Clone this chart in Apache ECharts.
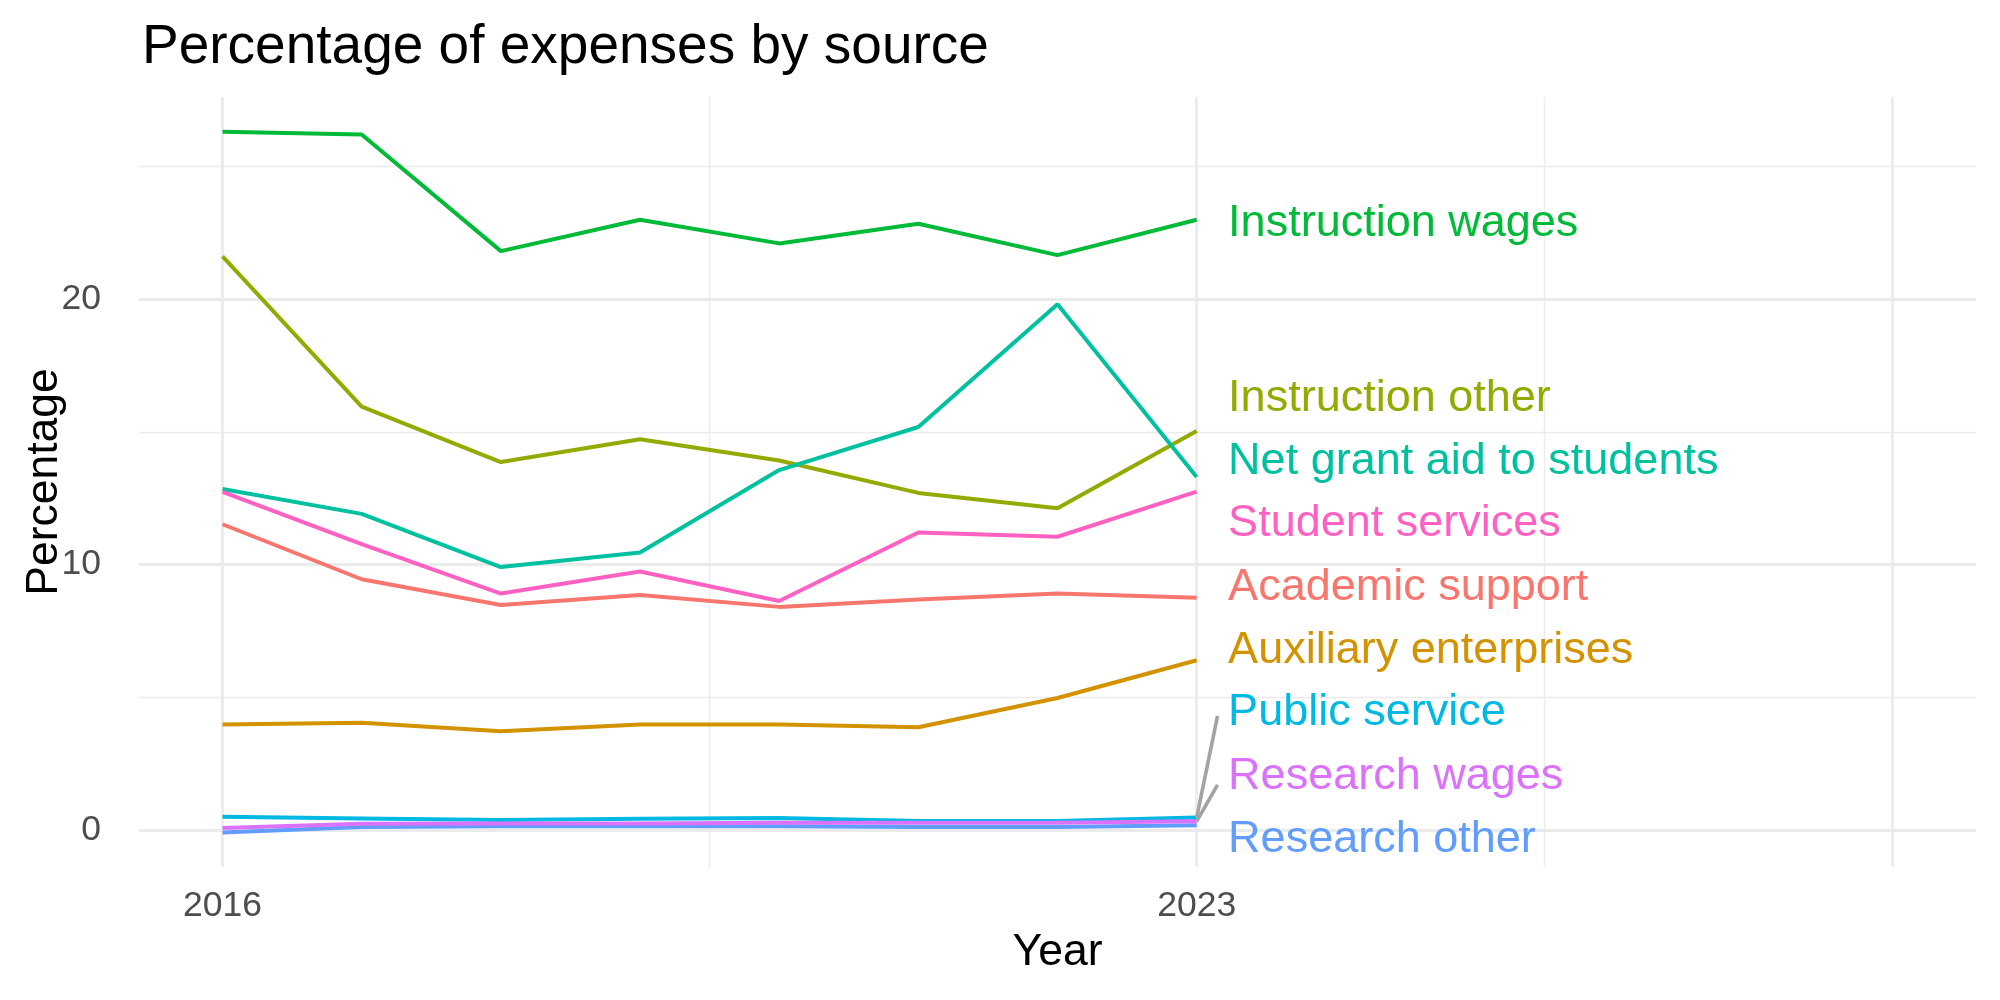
<!DOCTYPE html>
<html>
<head>
<meta charset="utf-8">
<title>Percentage of expenses by source</title>
<script src="https://cdn.jsdelivr.net/npm/echarts@6/dist/echarts.min.js"></script>
<style>
html,body{margin:0;padding:0;background:#fff;}
#chart{width:2000px;height:1000px;}
</style>
</head>
<body>
<div id="chart"></div>
<script>
// data
var years = [2016, 2017, 2018, 2019, 2020, 2021, 2022, 2023];
var sources = ['Academic support', 'Auxiliary enterprises', 'Instruction other', 'Instruction wages',
  'Net grant aid to students', 'Public service', 'Research other', 'Research wages', 'Student services'];
var academicSupport  = [11.52, 9.45, 8.48, 8.86, 8.41, 8.69, 8.91, 8.75];
var auxiliary        = [3.98, 4.05, 3.73, 3.98, 3.98, 3.88, 4.98, 6.40];
var instructionOther = [21.60, 15.95, 13.86, 14.72, 13.92, 12.70, 12.12, 15.03];
var instructionWages = [26.29, 26.19, 21.80, 22.98, 22.09, 22.83, 21.65, 22.98];
var netGrantAid      = [12.85, 11.91, 9.91, 10.46, 13.56, 15.18, 19.80, 13.30];
var publicService    = [0.51, 0.45, 0.39, 0.44, 0.46, 0.35, 0.35, 0.48];
var researchOther    = [-0.08, 0.13, 0.15, 0.15, 0.15, 0.13, 0.13, 0.19];
var researchWages    = [0.09, 0.25, 0.26, 0.26, 0.29, 0.29, 0.29, 0.34];
var studentServices  = [12.74, 10.77, 8.91, 9.74, 8.63, 11.21, 11.05, 12.75];
var values = [academicSupport, auxiliary, instructionOther, instructionWages, netGrantAid,
  publicService, researchOther, researchWages, studentServices];

// axis ticks
var xLabelTicks = [2016, 2023];
var xMajorGrid = [2016, 2023, 2028];
var xMinorGrid = [2019.5, 2025.5];
var yMajorTicks = [0, 10, 20];
var yMinorTicks = [5, 15, 25];

// repelled label heights (same order as sources), as placed in the picture
var labelY = [9.26, 6.86, 16.37, 22.93, 14.0, 4.54, -0.24, 2.14, 11.64];
// leader segments drawn for labels pushed away from their line end
var leaderFrom = {'Public service': 4.31, 'Research wages': 1.71};

var colors = ['#F8766D', '#D39200', '#93AA00', '#00BA38', '#00C19F', '#00B9E3', '#619CFF', '#DB72FB', '#FF61C3'];
var FONT = 'Liberation Sans';
var xMin = 2015.4, xMax = 2028.6, yMin = -1.38, yMax = 27.6;
var lastYear = years[years.length - 1];

var chart = echarts.init(document.getElementById('chart'));

var series = [];
sources.forEach(function(name, i){
  series.push({
    name: name,
    type: 'line',
    data: years.map(function(y, k){ return [y, values[i][k]]; }),
    showSymbol: false,
    symbol: 'none',
    lineStyle: {color: colors[i], width: 4},
    itemStyle: {color: colors[i]},
    z: 3 + i * 0.01,
    silent: true
  });
});
// leader segments
sources.forEach(function(name, i){
  if (leaderFrom[name] === undefined) return;
  series.push({
    type: 'line',
    data: [[lastYear + 0.15, leaderFrom[name]], [lastYear, values[i][values[i].length - 1]]],
    symbol: 'none',
    lineStyle: {color: '#A3A3A3', width: 3.6},
    z: 4,
    silent: true
  });
});
// text labels
series.push({
  type: 'scatter',
  symbolSize: 0,
  silent: true,
  z: 5,
  itemStyle: {opacity: 1},
  data: sources.map(function(name, i){
    return {
      name: name,
      value: [lastYear + 0.226, labelY[i]],
      label: {color: colors[i]}
    };
  }),
  label: {
    show: true,
    position: 'right',
    distance: 0,
    offset: [0, 3],
    formatter: '{b}',
    fontFamily: FONT,
    fontSize: 45,
    opacity: 1,
    textBorderWidth: 0,
    verticalAlign: 'middle'
  }
});

var option = {
  animation: false,
  backgroundColor: '#ffffff',
  title: {
    text: 'Percentage of expenses by source',
    left: 137,
    top: 15,
    textStyle: {fontFamily: FONT, fontSize: 55, fontWeight: 'normal', color: '#000000'}
  },
  grid: {left: 139, right: 24, top: 97, bottom: 133, containLabel: false},
  xAxis: [{
    type: 'value',
    min: xMin, max: xMax,
    name: 'Year',
    nameLocation: 'middle',
    nameGap: 63,
    nameTextStyle: {fontFamily: FONT, fontSize: 44.5, color: '#000000'},
    axisLine: {show: false},
    axisTick: {show: false, customValues: xMajorGrid},
    axisLabel: {
      customValues: xLabelTicks,
      formatter: function(v){ return String(v); },
      fontFamily: FONT, fontSize: 35.5, color: '#4D4D4D', margin: 21
    },
    splitLine: {show: true, lineStyle: {color: '#EBEBEB', width: 2.8}}
  }, {
    type: 'value',
    position: 'bottom',
    min: xMin, max: xMax,
    axisLine: {show: false},
    axisTick: {show: false, customValues: xMinorGrid},
    axisLabel: {show: false},
    splitLine: {show: true, lineStyle: {color: '#EBEBEB', width: 1.4}}
  }],
  yAxis: [{
    type: 'value',
    min: yMin, max: yMax,
    name: 'Percentage',
    nameLocation: 'middle',
    nameRotate: 90,
    nameGap: 72,
    nameMoveOverlap: false,
    nameTextStyle: {fontFamily: FONT, fontSize: 44.5, color: '#000000'},
    axisLine: {show: false},
    axisTick: {show: false, customValues: yMajorTicks},
    axisLabel: {
      customValues: yMajorTicks,
      formatter: function(v){ return String(v); },
      fontFamily: FONT, fontSize: 35.5, color: '#4D4D4D', margin: 38
    },
    splitLine: {show: true, lineStyle: {color: '#EBEBEB', width: 2.8}}
  }, {
    type: 'value',
    position: 'left',
    min: yMin, max: yMax,
    axisLine: {show: false},
    axisTick: {show: false, customValues: yMinorTicks},
    axisLabel: {show: false},
    splitLine: {show: true, lineStyle: {color: '#EBEBEB', width: 1.4}}
  }],
  series: series
};
chart.setOption(option);
</script>
</body>
</html>
